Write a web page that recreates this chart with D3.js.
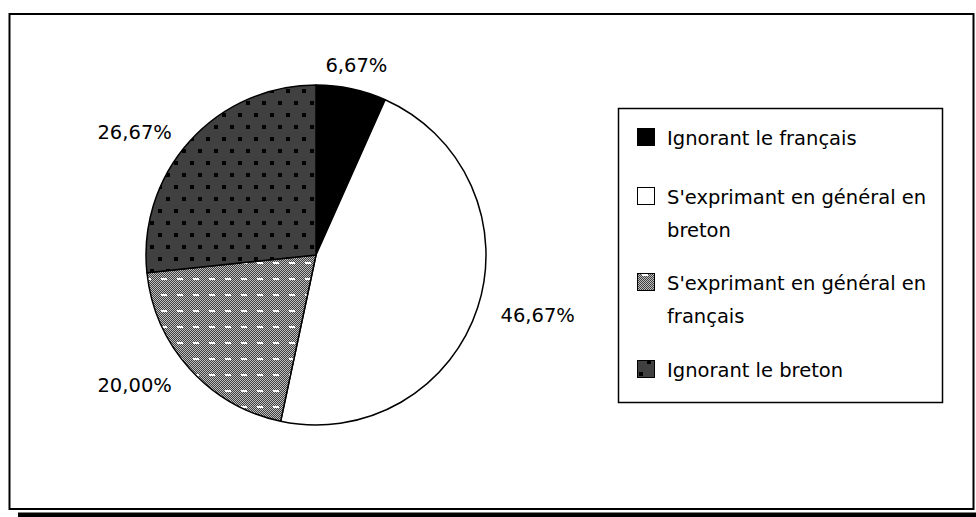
<!DOCTYPE html>
<meta charset="utf-8">
<title>Pratique du breton</title>
<style>
body { margin: 0; background: #fff; }
text { font-family: "DejaVu Sans", Verdana, sans-serif; font-size: 19.5px; fill: #000; }
</style>
<body>
<div id="chart"></div>
<script src="https://d3js.org/d3.v7.min.js"></script>
<script>
  var categories = ["Ignorant le français", "S'exprimant en général en breton",
                    "S'exprimant en général en français", "Ignorant le breton"];
  var values = [6.67, 46.67, 20.00, 26.67];
  // legend lines, wrapped as in the original
  var legendLines = [["Ignorant le français"],
                     ["S'exprimant en général en", "breton"],
                     ["S'exprimant en général en", "français"],
                     ["Ignorant le breton"]];

  var width = 976, height = 517;
  var cx = 316, cy = 255, radius = 170;

  var svg = d3.select("#chart").append("svg")
      .attr("width", width)
      .attr("height", height);

  var defs = svg.append("defs");

  // medium grey checker with white dashes
  var p1 = defs.append("pattern").attr("id", "pat-grey")
      .attr("patternUnits", "userSpaceOnUse")
      .attr("width", 16).attr("height", 16);
  var c1 = defs.append("pattern").attr("id", "chk-grey")
      .attr("patternUnits", "userSpaceOnUse")
      .attr("width", 2).attr("height", 2);
  c1.append("rect").attr("width", 2).attr("height", 2).attr("fill", "#fff");
  c1.append("rect").attr("width", 1).attr("height", 1).attr("fill", "#000");
  c1.append("rect").attr("x", 1).attr("y", 1).attr("width", 1).attr("height", 1).attr("fill", "#000");
  p1.append("rect").attr("width", 16).attr("height", 16).attr("fill", "#7e7e7e");
  p1.append("rect").attr("width", 16).attr("height", 16).attr("fill", "url(#chk-grey)").attr("opacity", 0.5);
  p1.append("rect").attr("x", 5).attr("y", 7).attr("width", 6).attr("height", 2).attr("fill", "#fff");

  // dark checker with black dots
  var p2 = defs.append("pattern").attr("id", "pat-dark")
      .attr("patternUnits", "userSpaceOnUse")
      .attr("width", 16).attr("height", 24);
  p2.append("rect").attr("width", 16).attr("height", 24).attr("fill", "#404040");
  p2.append("rect").attr("x", 2).attr("y", 2).attr("width", 4).attr("height", 4).attr("fill", "#000");
  p2.append("rect").attr("x", 10).attr("y", 14).attr("width", 4).attr("height", 4).attr("fill", "#000");

  var fills = ["#000", "#fff", "url(#pat-grey)", "url(#pat-dark)"];

  // outer frame
  svg.append("rect")
      .attr("x", 9.5).attr("y", 14)
      .attr("width", 964).attr("height", 495)
      .attr("fill", "#fff")
      .attr("stroke", "#000")
      .attr("stroke-width", 2);
  svg.append("rect")
      .attr("x", 18).attr("y", 512.5)
      .attr("width", width - 18).attr("height", 4.5)
      .attr("fill", "#000");

  var pie = d3.pie().sort(null).value(function(d) { return d; });
  var arcs = pie(values);
  var arc = d3.arc().innerRadius(0).outerRadius(radius);
  var labelArc = d3.arc().innerRadius(radius + 24).outerRadius(radius + 24);

  var g = svg.append("g").attr("transform", "translate(" + cx + "," + cy + ")");

  g.selectAll("path")
    .data(arcs)
    .enter().append("path")
      .attr("d", arc)
      .attr("fill", function(d, i) { return fills[i]; })
      .attr("stroke", "#000")
      .attr("stroke-width", 1.5)
      .attr("stroke-linejoin", "round");

  g.selectAll("text.pct")
    .data(arcs)
    .enter().append("text")
      .attr("class", "pct")
      .attr("transform", function(d) {
        var c = labelArc.centroid(d);
        // labels above the centre sit a little lower, as in the original
        if (c[1] < 0 && Math.abs(c[0]) > 60) c[1] += 7;
        return "translate(" + c + ")";
      })
      .attr("dy", "0.35em")
      .attr("text-anchor", function(d) {
        var s = Math.sin((d.startAngle + d.endAngle) / 2);
        return Math.abs(s) < 0.4 ? "middle" : (s > 0 ? "start" : "end");
      })
      .text(function(d) { return d.value.toFixed(2).replace(".", ",") + "%"; });

  // legend
  var legend = svg.append("g");
  legend.append("rect")
      .attr("x", 618.5).attr("y", 108.5)
      .attr("width", 324).attr("height", 294)
      .attr("fill", "#fff")
      .attr("stroke", "#000")
      .attr("stroke-width", 1.5);

  var rowY = [138, 197, 283, 370];
  var item = legend.selectAll("g.item")
    .data(categories)
    .enter().append("g")
      .attr("class", "item")
      .attr("transform", function(d, i) { return "translate(637," + rowY[i] + ")"; });

  item.append("rect")
      .attr("x", 0.5).attr("y", -9.5)
      .attr("width", 17).attr("height", 17)
      .attr("fill", function(d, i) { return fills[i]; })
      .attr("stroke", "#000")
      .attr("stroke-width", 1);

  item.append("text")
      .attr("x", 30)
      .attr("y", 0)
      .selectAll("tspan")
      .data(function(d, i) { return legendLines[i]; })
      .enter().append("tspan")
        .attr("x", 30)
        .attr("dy", function(d, j) { return j === 0 ? "0.35em" : "33px"; })
        .text(function(d) { return d; });
</script>
</body>
</html>
